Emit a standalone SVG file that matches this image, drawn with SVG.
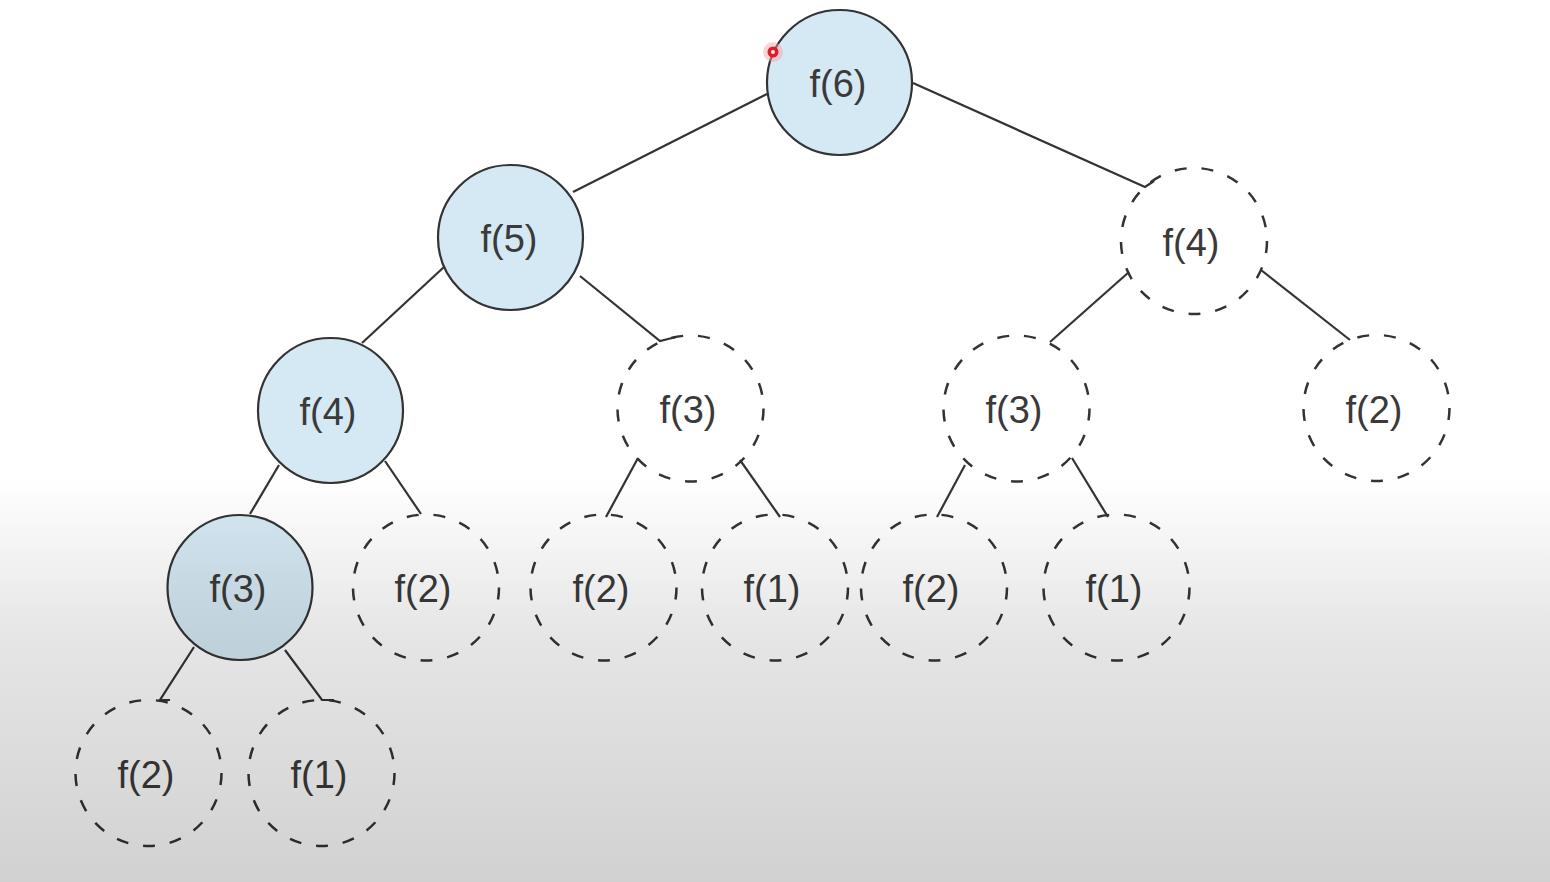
<svg xmlns="http://www.w3.org/2000/svg" width="1550" height="882" viewBox="0 0 1550 882">
<defs>
<linearGradient id="shade" x1="0" y1="0" x2="0" y2="882" gradientUnits="userSpaceOnUse">
<stop offset="0" stop-color="#000" stop-opacity="0"/>
<stop offset="0.54" stop-color="#000" stop-opacity="0"/>
<stop offset="0.72" stop-color="#000" stop-opacity="0.1"/>
<stop offset="1" stop-color="#000" stop-opacity="0.18"/>
</linearGradient>
</defs>
<style>
.solid{fill:#d5e9f4;stroke:#333;stroke-width:2.2}
.dash{fill:none;stroke:#333;stroke-width:2.5;stroke-dasharray:12 15}
.lbl{font-family:"Liberation Sans",Arial,sans-serif;font-size:38px;fill:#3a3a3a;text-anchor:middle}
.edge{fill:none;stroke:#333;stroke-width:2.2}
</style>
<rect width="1550" height="882" fill="#fff"/>
<g id="connectors">
<polyline class="edge" points="767,94 573,192"/>
<polyline class="edge" points="913,83 1145,187 1154,181"/>
<polyline class="edge" points="444,267 362,343"/>
<polyline class="edge" points="580,276 660,341 676,337"/>
<polyline class="edge" points="1129,272 1050,342"/>
<polyline class="edge" points="1261,270 1350,340"/>
<polyline class="edge" points="279,465 250,514"/>
<polyline class="edge" points="385,461 421,514"/>
<polyline class="edge" points="638,458 606,517"/>
<polyline class="edge" points="740,460 780,517"/>
<polyline class="edge" points="965,465 937,517"/>
<polyline class="edge" points="1072,458 1108,517"/>
<polyline class="edge" points="194,647 160,700 170,700"/>
<polyline class="edge" points="285,650 322,700 334,700"/>
</g>
<g id="n-f6"><circle class="solid" cx="839.5" cy="82.5" r="72.5"/><text class="lbl" x="838" y="97">f(6)</text></g>
<g id="n-f5"><circle class="solid" cx="510.5" cy="237.5" r="72.5"/><text class="lbl" x="509" y="252">f(5)</text></g>
<g id="n-f4r"><circle class="dash" cx="1194" cy="241" r="73"/><text class="lbl" x="1191" y="256">f(4)</text></g>
<g id="n-f4l"><circle class="solid" cx="330.5" cy="410.5" r="72.5"/><text class="lbl" x="328" y="425">f(4)</text></g>
<g id="n-f3a"><circle class="dash" cx="690.5" cy="408.5" r="73"/><text class="lbl" x="688" y="423">f(3)</text></g>
<g id="n-f3b"><circle class="dash" cx="1016.5" cy="408.5" r="73"/><text class="lbl" x="1014" y="423">f(3)</text></g>
<g id="n-f2a"><circle class="dash" cx="1376.5" cy="408" r="73"/><text class="lbl" x="1374" y="423">f(2)</text></g>
<g id="n-f3s"><circle class="solid" cx="240" cy="587.5" r="72.5"/><text class="lbl" x="238" y="602">f(3)</text></g>
<g id="n-f2b"><circle class="dash" cx="426" cy="587.5" r="73"/><text class="lbl" x="423" y="602">f(2)</text></g>
<g id="n-f2c"><circle class="dash" cx="603.5" cy="587.5" r="73"/><text class="lbl" x="601" y="602">f(2)</text></g>
<g id="n-f1a"><circle class="dash" cx="775" cy="587.5" r="73"/><text class="lbl" x="772" y="602">f(1)</text></g>
<g id="n-f2d"><circle class="dash" cx="934" cy="587.5" r="73"/><text class="lbl" x="931" y="602">f(2)</text></g>
<g id="n-f1b"><circle class="dash" cx="1116.5" cy="587.5" r="73"/><text class="lbl" x="1114" y="602">f(1)</text></g>
<g id="n-f2e"><circle class="dash" cx="148.5" cy="773" r="73"/><text class="lbl" x="146" y="788">f(2)</text></g>
<g id="n-f1c"><circle class="dash" cx="321.5" cy="773" r="73"/><text class="lbl" x="319" y="788">f(1)</text></g>
<g id="cursor">
<circle cx="773" cy="52" r="10" fill="#f4a0a8" opacity="0.45"/>
<circle cx="773" cy="52" r="5.5" fill="#e01c28"/>
<circle cx="773" cy="52" r="2" fill="#fde8ea"/>
</g>
<rect width="1550" height="882" fill="url(#shade)" pointer-events="none"/>
</svg>
